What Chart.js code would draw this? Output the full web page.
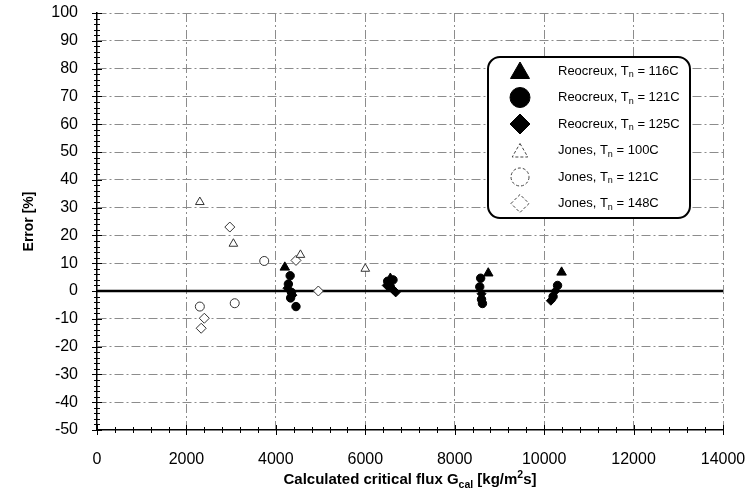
<!DOCTYPE html>
<html>
<head>
<meta charset="utf-8">
<title>Error vs calculated critical flux</title>
<script src="https://cdn.jsdelivr.net/npm/chart.js@4.4.0/dist/chart.umd.min.js"></script>
<style>
  html, body { margin: 0; padding: 0; background: #fff; }
  #wrap { width: 750px; height: 494px; }
</style>
</head>
<body>
<div id="wrap"><canvas id="chart" width="750" height="494"></canvas></div>
<script>
// Measured points: calculated critical flux [kg/m2s] vs error [%]
const reo116X = [4200, 6560, 8750, 10390];
const reo116Y = [8.5, 4.5, 6.4, 6.7];

const reo121X = [4320, 4280, 4350, 4330, 4450, 6500, 6620, 6560, 8580, 8560, 8600, 8620, 10300, 10200];
const reo121Y = [5.5, 2.5, -0.5, -2.5, -5.6, 3.5, 4, 1.5, 4.6, 1.5, -3, -4.5, 2, -2];

const reo125X = [4260, 4370, 6480, 6620, 6680, 8600, 10250, 10150];
const reo125Y = [1, -1.5, 2, 0.5, -0.5, -1, 0, -3.5];

const jones100X = [2300, 3050, 4550, 6000];
const jones100Y = [32, 17, 13, 8];

const jones121X = [2300, 3080, 3740];
const jones121Y = [-5.6, -4.4, 10.8];

const jones148X = [2970, 2400, 2330, 4450, 4950];
const jones148Y = [23, -9.8, -13.4, 11, 0];

const seriesLabels = ['Reocreux, T', 'Reocreux, T', 'Reocreux, T', 'Jones, T', 'Jones, T', 'Jones, T'];
const seriesTemps = ['116C', '121C', '125C', '100C', '121C', '148C'];

const xTicks = [0, 2000, 4000, 6000, 8000, 10000, 12000, 14000];
const yTicks = [100, 90, 80, 70, 60, 50, 40, 30, 20, 10, 0, -10, -20, -30, -40, -50];

const FONT = "'Liberation Sans', Arial, Helvetica, sans-serif";

function toPoints(xs, ys) {
    return xs.map((x, i) => ({ x: x, y: ys[i] }));
}

document.addEventListener('DOMContentLoaded', function() {
    const markers = [
        { style: 'triangle', radius: 5.5, fill: '#000', stroke: '#000', width: 1 },
        { style: 'circle', radius: 4.2, fill: '#000', stroke: '#000', width: 1 },
        { style: 'rectRot', radius: 4.5, fill: '#000', stroke: '#000', width: 1 },
        { style: 'triangle', radius: 5, fill: '#fff', stroke: '#333', width: 1 },
        { style: 'circle', radius: 4.5, fill: '#fff', stroke: '#333', width: 1 },
        { style: 'rectRot', radius: 5, fill: '#fff', stroke: '#333', width: 1 }
    ];
    const allPoints = [
        toPoints(reo116X, reo116Y),
        toPoints(reo121X, reo121Y),
        toPoints(reo125X, reo125Y),
        toPoints(jones100X, jones100Y),
        toPoints(jones121X, jones121Y),
        toPoints(jones148X, jones148Y)
    ];

    const datasets = allPoints.map((pts, i) => ({
        label: seriesLabels[i] + 'n = ' + seriesTemps[i],
        data: pts,
        pointStyle: markers[i].style,
        pointRadius: markers[i].radius,
        pointBackgroundColor: markers[i].fill,
        pointBorderColor: markers[i].stroke,
        pointBorderWidth: markers[i].width,
        showLine: false
    }));

    // Minor ticks on both axes and the heavy zero line
    const axisDecor = {
        id: 'axisDecor',
        beforeDatasetsDraw(chart) {
            const { ctx, chartArea, scales } = chart;
            const y0 = scales.y.getPixelForValue(0);
            ctx.save();
            ctx.strokeStyle = '#000';
            ctx.lineWidth = 2.5;
            ctx.beginPath();
            ctx.moveTo(chartArea.left, y0);
            ctx.lineTo(chartArea.right, y0);
            ctx.stroke();

            ctx.lineWidth = 1;
            for (let v = -50; v <= 100; v += 2) {
                const py = Math.round(scales.y.getPixelForValue(v)) + 0.5;
                const len = v % 10 === 0 ? 5 : 3;
                ctx.beginPath();
                ctx.moveTo(chartArea.left - len, py);
                ctx.lineTo(chartArea.left + len, py);
                ctx.stroke();
            }
            for (let v = 0; v <= 14000; v += 400) {
                const px = Math.round(scales.x.getPixelForValue(v)) + 0.5;
                const len = v % 2000 === 0 ? 5 : 3;
                ctx.beginPath();
                ctx.moveTo(px, chartArea.bottom - len);
                ctx.lineTo(px, chartArea.bottom + len);
                ctx.stroke();
            }
            ctx.restore();
        }
    };

    // X title with subscript and superscript
    const xTitle = {
        id: 'xTitle',
        afterDraw(chart) {
            const { ctx, chartArea } = chart;
            const parts = [
                { t: 'Calculated critical flux G', size: 15, dy: 0 },
                { t: 'cal', size: 10.5, dy: 4 },
                { t: ' [kg/m', size: 15, dy: 0 },
                { t: '2', size: 10.5, dy: -6 },
                { t: 's]', size: 15, dy: 0 }
            ];
            ctx.save();
            ctx.fillStyle = '#000';
            ctx.textBaseline = 'alphabetic';
            let total = 0;
            parts.forEach(p => {
                ctx.font = 'bold ' + p.size + 'px ' + FONT;
                p.w = ctx.measureText(p.t).width;
                total += p.w;
            });
            let x = (chartArea.left + chartArea.right) / 2 - total / 2;
            const base = 484;
            parts.forEach(p => {
                ctx.font = 'bold ' + p.size + 'px ' + FONT;
                ctx.fillText(p.t, x, base + p.dy);
                x += p.w;
            });
            ctx.restore();
        }
    };

    // Boxed legend inside the plot
    const boxLegend = {
        id: 'boxLegend',
        afterDraw(chart) {
            const ctx = chart.ctx;
            const bx = 488, by = 57, bw = 202, bh = 161, r = 12;
            ctx.save();
            ctx.beginPath();
            ctx.moveTo(bx + r, by);
            ctx.arcTo(bx + bw, by, bx + bw, by + bh, r);
            ctx.arcTo(bx + bw, by + bh, bx, by + bh, r);
            ctx.arcTo(bx, by + bh, bx, by, r);
            ctx.arcTo(bx, by, bx + bw, by, r);
            ctx.closePath();
            ctx.fillStyle = '#fff';
            ctx.fill();
            ctx.strokeStyle = '#000';
            ctx.lineWidth = 2;
            ctx.stroke();

            const legendMarkers = [
                { style: 'triangle', radius: 11 },
                { style: 'circle', radius: 10 },
                { style: 'rectRot', radius: 10 },
                { style: 'triangle', radius: 9 },
                { style: 'circle', radius: 9 },
                { style: 'rectRot', radius: 9 }
            ];
            for (let i = 0; i < 6; i++) {
                const y = 71 + i * 26.5;
                const filled = i < 3;
                ctx.fillStyle = filled ? '#000' : '#fff';
                ctx.strokeStyle = filled ? '#000' : '#444';
                ctx.lineWidth = 1;
                ctx.setLineDash(filled ? [] : [3, 2]);
                Chart.helpers.drawPoint(ctx, {
                    pointStyle: legendMarkers[i].style,
                    radius: legendMarkers[i].radius,
                    borderWidth: 1,
                    rotation: 0
                }, 520, y + (legendMarkers[i].style === 'triangle' ? 2 : 0));
                ctx.setLineDash([]);

                ctx.fillStyle = '#000';
                ctx.textBaseline = 'middle';
                let tx = 558;
                ctx.font = '13px ' + FONT;
                ctx.fillText(seriesLabels[i], tx, y);
                tx += ctx.measureText(seriesLabels[i]).width;
                ctx.font = '9px ' + FONT;
                ctx.fillText('n', tx, y + 4);
                tx += ctx.measureText('n').width;
                ctx.font = '13px ' + FONT;
                ctx.fillText(' = ' + seriesTemps[i], tx, y);
            }
            ctx.restore();
        }
    };

    new Chart(document.getElementById('chart'), {
        type: 'scatter',
        data: { datasets: datasets },
        plugins: [axisDecor, xTitle, boxLegend],
        options: {
            responsive: false,
            animation: false,
            layout: { padding: { top: 13, right: 27, left: 0, bottom: 0 } },
            plugins: {
                legend: { display: false },
                tooltip: { enabled: false }
            },
            scales: {
                x: {
                    type: 'linear',
                    min: 0,
                    max: 14000,
                    afterFit: scale => {
                        scale.height = 64;
                        scale.paddingLeft = 0;
                        scale.paddingRight = 0;
                    },
                    afterBuildTicks: scale => { scale.ticks = xTicks.map(v => ({ value: v })); },
                    ticks: {
                        padding: 20,
                        color: '#000',
                        font: { family: FONT, size: 16 },
                        callback: v => String(v)
                    },
                    grid: {
                        drawTicks: false,
                        color: ctx => ctx.tick && ctx.tick.value === 0 ? 'rgba(0,0,0,0)' : '#8c8c8c',
                        lineWidth: 1
                    },
                    border: { display: true, color: '#000', width: 1.5, dash: [9, 3, 2, 3] }
                },
                y: {
                    type: 'linear',
                    min: -50,
                    max: 100,
                    afterFit: scale => {
                        scale.width = 97;
                        scale.paddingTop = 0;
                        scale.paddingBottom = 0;
                    },
                    afterBuildTicks: scale => { scale.ticks = yTicks.map(v => ({ value: v })); },
                    ticks: {
                        padding: 19,
                        color: '#000',
                        font: { family: FONT, size: 16 },
                        callback: v => String(v)
                    },
                    grid: {
                        drawTicks: false,
                        color: ctx => ctx.tick && (ctx.tick.value === -50 || ctx.tick.value === 0) ? 'rgba(0,0,0,0)' : '#8c8c8c',
                        lineWidth: 1
                    },
                    border: { display: true, color: '#000', width: 1.5, dash: [9, 3, 2, 3] },
                    title: {
                        display: true,
                        text: 'Error [%]',
                        color: '#000',
                        font: { family: FONT, size: 14, weight: 'bold' },
                        padding: { top: 21, bottom: 0 }
                    }
                }
            }
        }
    });
});
</script>
</body>
</html>
